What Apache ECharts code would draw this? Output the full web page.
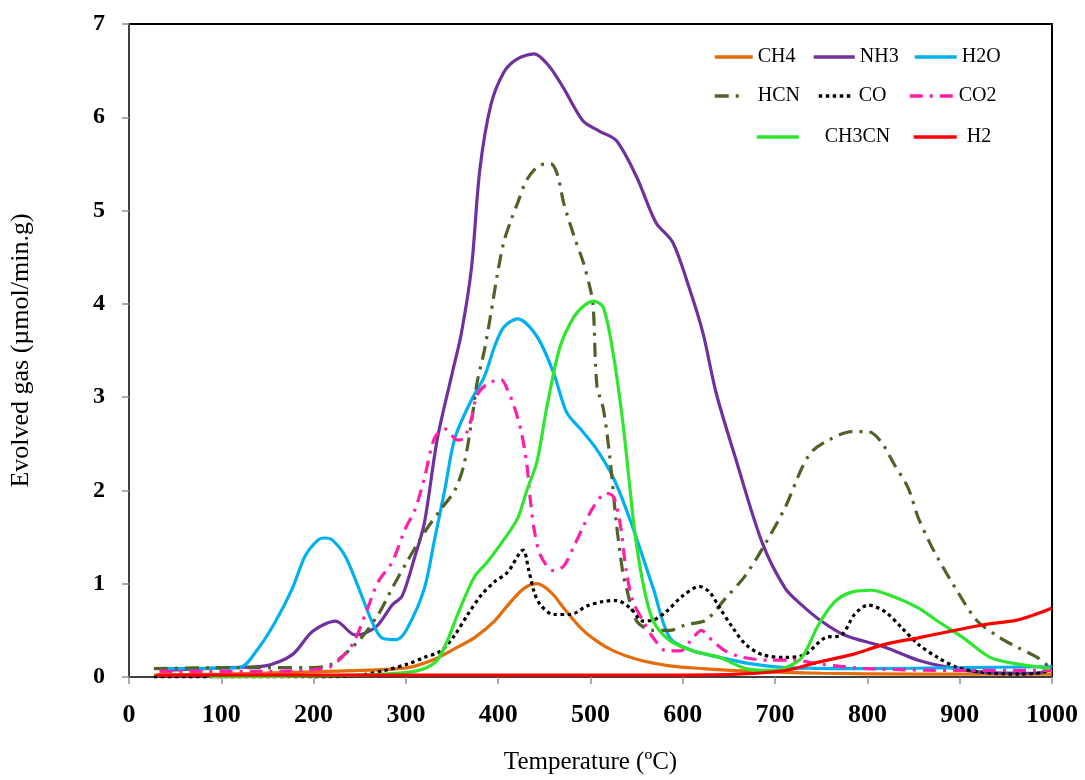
<!DOCTYPE html>
<html>
<head>
<meta charset="utf-8">
<script src="https://cdn.jsdelivr.net/npm/echarts@6/dist/echarts.min.js"></script>
<style>
  html, body { margin: 0; padding: 0; background: #fff; }
  #chart { width: 1085px; height: 780px; }
</style>
</head>
<body>
<div id="chart"></div>
<script>
// temperature (ºC), evolved gas (µmol/min.g)
var ch4 = [[27,0.02],[100,0.03],[177,0.05],[249,0.07],[302,0.1],[331,0.19],[356,0.32],[374,0.42],[396,0.6],[414,0.81],[428,0.95],[442,1.0],[457,0.91],[471,0.74],[489,0.53],[506,0.39],[525,0.28],[550,0.19],[586,0.12],[622,0.09],[675,0.06],[750,0.04],[850,0.03],[1000,0.03]];
var nh3 = [[38,0.07],[105,0.1],[148,0.12],[177,0.24],[199,0.49],[224,0.6],[245,0.45],[256,0.47],[270,0.56],[285,0.77],[296,0.87],[310,1.3],[320,1.65],[334,2.55],[350,3.25],[360,3.68],[371,4.38],[380,5.43],[392,6.13],[406,6.48],[420,6.62],[439,6.68],[455,6.55],[471,6.31],[492,5.96],[510,5.85],[528,5.75],[550,5.36],[571,4.87],[589,4.66],[607,4.17],[622,3.68],[636,3.05],[657,2.35],[686,1.44],[711,0.95],[729,0.77],[750,0.6],[775,0.45],[819,0.32],[855,0.18],[890,0.1],[926,0.05],[985,0.04],[1000,0.12]];
var h2o = [[33,0.09],[119,0.1],[141,0.32],[159,0.6],[177,0.95],[191,1.3],[205,1.47],[212,1.49],[220,1.47],[234,1.3],[249,0.95],[263,0.6],[274,0.42],[290,0.4],[302,0.53],[320,0.95],[331,1.47],[342,2.0],[353,2.56],[371,2.97],[385,3.22],[396,3.54],[406,3.75],[421,3.84],[442,3.65],[460,3.26],[474,2.84],[489,2.66],[506,2.45],[525,2.13],[543,1.68],[568,0.95],[586,0.42],[611,0.28],[640,0.21],[675,0.14],[711,0.1],[800,0.09],[900,0.1],[1000,0.11]];
var hcn = [[27,0.09],[105,0.1],[200,0.1],[220,0.14],[249,0.39],[270,0.67],[285,0.95],[302,1.25],[320,1.55],[338,1.8],[353,2.0],[363,2.28],[371,2.73],[377,3.15],[385,3.5],[392,3.89],[399,4.31],[406,4.66],[414,4.9],[421,5.08],[431,5.33],[446,5.49],[457,5.5],[464,5.39],[471,5.08],[482,4.73],[492,4.45],[500,4.15],[503,3.96],[507,3.12],[514,2.87],[521,2.35],[528,1.65],[535,1.12],[539,0.95],[550,0.6],[568,0.5],[586,0.5],[603,0.56],[625,0.61],[646,0.84],[668,1.09],[690,1.44],[711,1.82],[729,2.24],[740,2.42],[758,2.54],[783,2.63],[801,2.63],[815,2.52],[829,2.28],[844,2.03],[855,1.71],[866,1.47],[876,1.28],[898,0.91],[919,0.6],[944,0.42],[962,0.32],[984,0.21],[998,0.1]];
var co = [[27,0.0],[84,0.0],[200,0.0],[250,0.02],[277,0.07],[302,0.14],[320,0.21],[338,0.28],[353,0.45],[367,0.67],[381,0.87],[396,1.02],[410,1.12],[427,1.36],[433,1.15],[439,0.91],[446,0.77],[460,0.67],[478,0.67],[496,0.76],[514,0.81],[528,0.82],[543,0.74],[557,0.6],[568,0.61],[582,0.7],[600,0.87],[618,0.97],[629,0.91],[640,0.74],[654,0.53],[668,0.35],[686,0.24],[711,0.21],[732,0.24],[754,0.42],[772,0.45],[786,0.67],[801,0.77],[819,0.7],[837,0.53],[855,0.35],[876,0.21],[898,0.1],[926,0.05],[962,0.03],[990,0.05],[998,0.09]];
var co2 = [[33,0.06],[150,0.06],[200,0.08],[220,0.12],[242,0.35],[256,0.67],[270,1.02],[285,1.23],[299,1.58],[310,1.8],[320,2.13],[331,2.56],[342,2.66],[356,2.54],[363,2.56],[371,2.77],[377,3.02],[388,3.14],[403,3.19],[410,3.08],[417,2.91],[425,2.63],[431,2.28],[435,1.88],[439,1.58],[446,1.3],[460,1.14],[471,1.19],[482,1.4],[492,1.61],[503,1.82],[517,1.97],[525,1.93],[532,1.65],[539,1.12],[546,0.81],[557,0.6],[568,0.42],[582,0.28],[597,0.28],[611,0.42],[620,0.5],[632,0.39],[646,0.28],[665,0.21],[693,0.18],[722,0.18],[747,0.14],[801,0.09],[900,0.07],[1000,0.07]];
var ch3cn = [[87,0.0],[249,0.02],[302,0.05],[320,0.09],[334,0.18],[345,0.39],[356,0.67],[374,1.07],[388,1.23],[406,1.47],[421,1.7],[431,2.0],[442,2.31],[453,2.91],[467,3.54],[482,3.86],[493,3.98],[503,4.03],[514,3.96],[525,3.44],[535,2.73],[543,2.0],[548,1.55],[557,1.0],[568,0.6],[586,0.39],[611,0.28],[640,0.21],[668,0.09],[693,0.07],[711,0.1],[729,0.21],[747,0.56],[765,0.81],[783,0.91],[804,0.93],[826,0.87],[855,0.74],[876,0.6],[904,0.42],[933,0.21],[962,0.14],[998,0.09]];
var h2 = [[30,0.02],[100,0.02],[400,0.02],[600,0.02],[660,0.03],[711,0.07],[747,0.16],[783,0.24],[819,0.35],[855,0.42],[890,0.49],[926,0.56],[962,0.61],[990,0.7],[1000,0.74]];

var names = ['CH4', 'NH3', 'H2O', 'HCN', 'CO', 'CO2', 'CH3CN', 'H2'];
var values = [ch4, nh3, h2o, hcn, co, co2, ch3cn, h2];
var colors = ['#E46C0A', '#7030A0', '#00B0F0', '#4F6228', '#000000', '#FF1FA8', '#2EE62E', '#FF0000'];
var dashes = ['solid', 'solid', 'solid', [14, 7, 3, 7], [3.5, 3.5], [13, 7, 3, 7], 'solid', 'solid'];

// legend placement: left, center y, icon width, text offset
var legendSpots = [
  [713, 58, 38, 0], [812, 58, 41, 0], [913, 58, 42, 0],
  [713, 97, 28, 10], [817, 97, 35, 0], [908, 97, 44, 0],
  [755, 138, 42, 21], [912, 138, 43, 5]
];

var chart = echarts.init(document.getElementById('chart'));
var font = 'Liberation Serif';

var option = {
  animation: false,
  backgroundColor: '#fff',
  grid: {
    left: 122, right: 33, top: 24, bottom: 90,
    show: true, borderColor: '#000', borderWidth: 2
  },
  legend: legendSpots.map(function (s, i) {
    return {
      data: [names[i]],
      left: s[0], top: s[1] - 11,
      padding: 0,
      itemWidth: s[2], itemHeight: 14, itemGap: 0,
      itemStyle: { opacity: 0 },
      lineStyle: { width: 3.5 },
      textStyle: { fontFamily: font, fontSize: 20, color: '#000', padding: [0, 0, 0, s[3]] }
    };
  }),
  xAxis: {
    type: 'value', min: 0, max: 1000, interval: 100,
    name: 'Temperature (ºC)', nameLocation: 'middle', nameGap: 73,
    nameTextStyle: { fontFamily: font, fontSize: 25, color: '#000' },
    axisLine: { lineStyle: { color: '#404040', width: 2 } },
    axisTick: { inside: false, length: 7, lineStyle: { color: '#909090', width: 1.5 } },
    axisLabel: {
      fontFamily: font, fontSize: 26, fontWeight: 'bold', color: '#000', margin: 25,
      formatter: function (v) { return String(v); }
    },
    splitLine: { show: false }
  },
  yAxis: {
    type: 'value', min: 0, max: 7, interval: 1,
    name: 'Evolved gas (µmol/min.g)', nameLocation: 'middle', nameGap: 95,
    nameTextStyle: { fontFamily: font, fontSize: 26, color: '#000' },
    axisLine: { show: true, lineStyle: { color: '#404040', width: 2 } },
    axisTick: { show: true, inside: false, length: 7, lineStyle: { color: '#909090', width: 1.5 } },
    axisLabel: { fontFamily: font, fontSize: 24, fontWeight: 'bold', color: '#000', margin: 24 },
    splitLine: { show: false }
  },
  series: names.map(function (n, i) {
    return {
      name: n,
      type: 'line',
      data: values[i],
      smooth: 0.3,
      symbol: 'none',
      showSymbol: false,
      lineStyle: { color: colors[i], width: 3.2, type: dashes[i] },
      itemStyle: { color: colors[i] },
      z: i === 7 ? 10 : 2
    };
  })
};

chart.setOption(option);
</script>
</body>
</html>
